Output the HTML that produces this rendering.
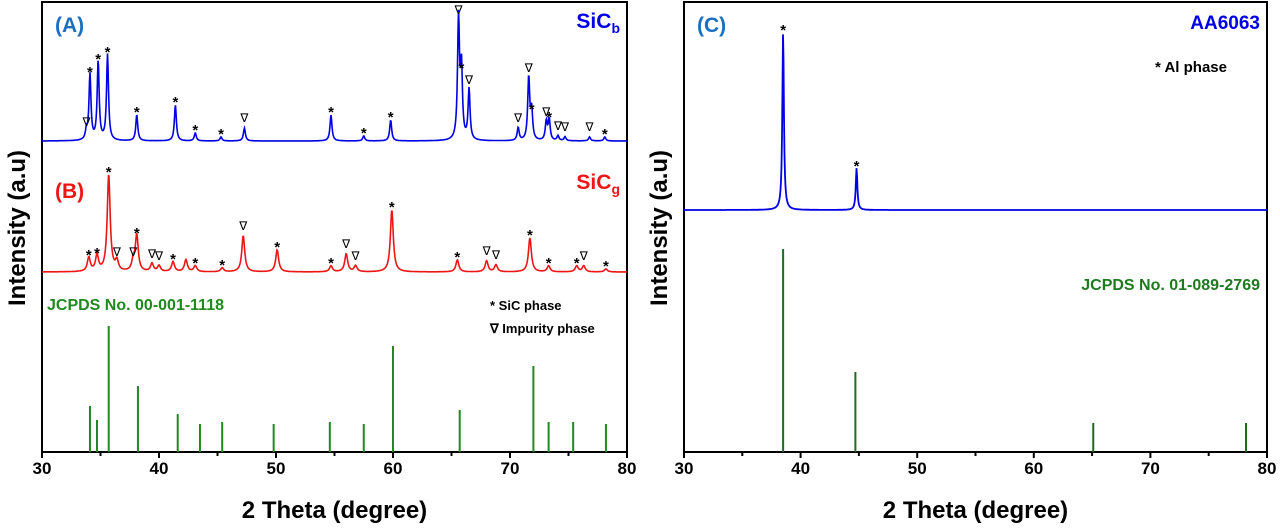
<!DOCTYPE html>
<html><head><meta charset="utf-8"><style>
html,body{margin:0;padding:0;background:#fff;width:1280px;height:528px;overflow:hidden}
svg{display:block;font-family:"Liberation Sans",sans-serif;font-weight:bold}
</style></head><body>
<svg id="s" width="1280" height="528" viewBox="0 0 1280 528"></svg>
<script>
// ---- data ----
const xTicks=[30,40,50,60,70,80];
// Panel A (SiC_b): peak positions, heights(px above baseline), marker type
const aPos=[33.8,34.1,34.8,35.6,38.1,41.4,43.1,45.3,47.3,54.7,57.5,59.8,65.6,65.85,66.5,70.7,71.6,71.85,73.1,73.35,74.1,74.7,76.8,78.1];
const aHt=[9,66,79,86,26,36,8,4,13,26,5,21,121,70,51,13,63,29,19,21,5,4,4,4];
const aMark=["v","*","*","*","*","*","*","*","v","*","*","*","v","*","v","v","v","*","v","*","v","v","v","*"];
// Panel B (SiC_g)
const bPos=[34.0,34.7,35.7,36.4,37.8,38.1,39.4,40.0,41.2,42.3,43.1,45.4,47.2,50.1,54.7,56.0,56.8,59.9,65.5,68.0,68.8,71.7,73.3,75.7,76.3,78.2];
const bHt=[14,16,97,10,10,36,8,6,10,12,6,4,36,22,6,18,6,62,12,11,7,34,6,6,6,3];
const bMark=["*","*","*","v","v","*","v","v","*","","*","*","v","*","*","v","v","*","*","v","v","*","*","*","v","*"];
// JCPDS 00-001-1118 sticks
const sPos=[34.1,34.7,35.7,38.2,41.6,43.5,45.4,49.8,54.6,57.5,60.0,65.7,72.0,73.3,75.4,78.2];
const sHt=[46,32,126,66,38,28,30,28,30,28,106,42,86,30,30,28];
// Panel C (AA6063)
const cPos=[38.5,44.8];
const cHt=[178,42];
const c2Pos=[38.5,44.7,65.1,78.2];
const c2Ht=[203,80,29,29];

const S=document.getElementById('s');const NS="http://www.w3.org/2000/svg";
function el(t,a,txt){const e=document.createElementNS(NS,t);for(const k in a)e.setAttribute(k,a[k]);if(txt!==undefined)e.textContent=txt;S.appendChild(e);return e;}
const L={x0:42,x1:627},R={x0:684,x1:1267},Y0=452,YT=2;
function sx(P,v){return P.x0+(v-30)/50*(P.x1-P.x0);}
function profile(P,pos,ht,base,w){let d="";for(let px=P.x0;px<=P.x1;px+=0.5){const v=30+(px-P.x0)/(P.x1-P.x0)*50;let y=0;for(let i=0;i<pos.length;i++){const t=(v-pos[i])/w;y+=ht[i]/(1+t*t);}d+=(d?"L":"M")+px.toFixed(1)+","+(base-y).toFixed(1);}return d;}
function axes(P,name){
 let f=el('rect',{x:P.x0,y:YT,width:P.x1-P.x0,height:Y0-YT,fill:'none',stroke:'#000','stroke-width':2});
 
 for(let v=30;v<=80;v+=5){const x=sx(P,v);let t=el('line',{x1:x,x2:x,y1:Y0,y2:Y0+(v%10?4:6),stroke:'#000','stroke-width':2});}
 xTicks.forEach(v=>{let t=el('text',{x:sx(P,v),y:474,'text-anchor':'middle','font-size':17},String(v));});
 let xl=el('text',{x:(P.x0+P.x1)/2,y:518,'text-anchor':'middle','font-size':24},'2 Theta (degree)');
 let yl=el('text',{x:0,y:0,'text-anchor':'middle','font-size':24,transform:`translate(${P.x0-17},228) rotate(-90)`},'Intensity (a.u)');
}
function marks(P,pos,ht,mk,base,w){pos.forEach((p,i)=>{if(!mk[i])return;let y=base-ht[i]-6;let t=el('text',{x:sx(P,p),y:mk[i]=='*'?y+8:y,'text-anchor':'middle','font-size':mk[i]=='*'?15:12,'font-weight':mk[i]=='*'?'bold':'normal',fill:'#000'},mk[i]=='*'?'*':'∇');});}
function sticks(P,pos,ht,col,name){pos.forEach((p,i)=>{let l=el('line',{x1:sx(P,p),x2:sx(P,p),y1:Y0,y2:Y0-ht[i],stroke:col,'stroke-width':2});});}

axes(L,'left');axes(R,'right');
let pa=el('path',{d:profile(L,aPos,aHt,141,0.1),fill:'none',stroke:'#0000e6','stroke-width':1.6});
marks(L,aPos,aHt,aMark,141);
let pb=el('path',{d:profile(L,bPos,bHt,272,0.15),fill:'none',stroke:'#ee1515','stroke-width':1.6});
marks(L,bPos,bHt,bMark,272);
sticks(L,sPos,sHt,'#1f8a1f','jcpds-sic-stick');
let pc=el('path',{d:profile(R,cPos,cHt,210,0.08),fill:'none',stroke:'#0000e6','stroke-width':1.8});
cPos.forEach((p,i)=>{let t=el('text',{x:sx(R,p),y:210-cHt[i]+3,'text-anchor':'middle','font-size':15},'*');});
sticks(R,c2Pos,c2Ht,'#1e6b1e','jcpds-al-stick');
function lab(x,y,s,fs,col,anc,name){let t=el('text',{x:x,y:y,'font-size':fs,fill:col,'text-anchor':anc||'start'},s);return t;}
lab(55,32,'(A)',21,'#1b6fc0','start','panel-a-label');
lab(55,198,'(B)',21,'#ee1515','start','panel-b-label');
lab(697,32,'(C)',21,'#1b6fc0','start','panel-c-label');
let t1=lab(620,28,'SiC',21,'#0000e6','end','sic-b-label');t1.innerHTML='SiC<tspan font-size="14" dy="5">b</tspan>';
let t2=lab(620,189,'SiC',21,'#ee1515','end','sic-g-label');t2.innerHTML='SiC<tspan font-size="14" dy="5">g</tspan>';
lab(1260,29,'AA6063',19,'#0000e6','end','aa6063-label');
lab(47,310,'JCPDS No. 00-001-1118',16,'#1f8a1f','start','jcpds-sic-label');
lab(1260,290,'JCPDS No. 01-089-2769',16,'#1e7a1e','end','jcpds-al-label');
lab(490,310,'* SiC phase',13,'#000','start','legend-sic-phase');
lab(490,333,'∇ Impurity phase',13,'#000','start','legend-impurity-phase');
lab(1155,72,'* Al phase',15,'#000','start','legend-al-phase');
</script>
</body></html>
